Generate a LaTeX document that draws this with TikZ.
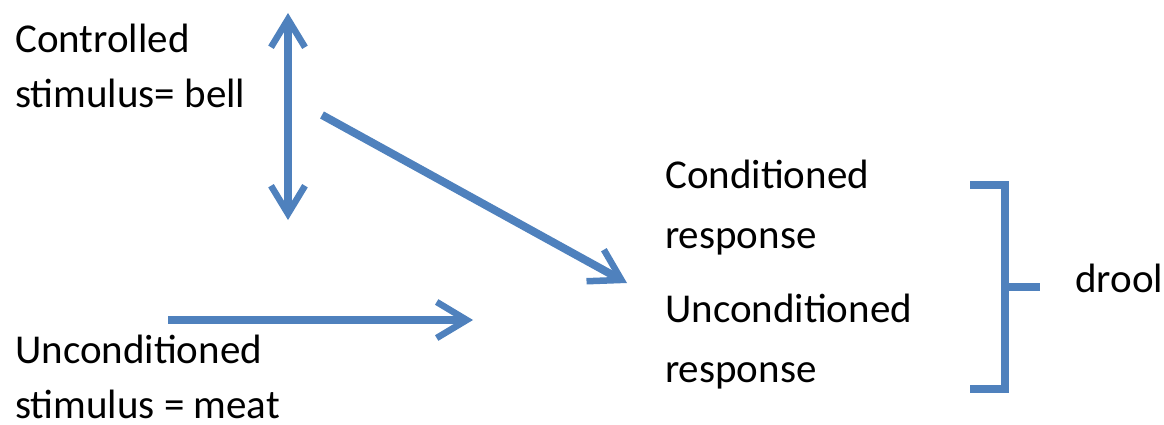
\documentclass[tikz,border=0pt]{standalone}
\usepackage{fontspec}
\setmainfont{Carlito}
\usetikzlibrary{arrows.meta}
\definecolor{arrowblue}{RGB}{79,129,189}
\tikzset{
  lbl/.style={inner sep=0pt, anchor=base west, align=left, font=\fontsize{41}{55}\selectfont},
  rlbl/.style={inner sep=0pt, anchor=base west, align=left, font=\fontsize{41}{59.5}\selectfont},
  conn/.style={draw=arrowblue, line width=8pt, -{Straight Barb[length=30pt,width=36pt,line width=6.5pt]}},
  dconn/.style={draw=arrowblue, line width=8pt, {Straight Barb[length=28pt,width=34pt,line width=6.5pt]}-{Straight Barb[length=28pt,width=34pt,line width=6.5pt]}},
  bracket/.style={draw=arrowblue, line width=7.5pt}
}
\begin{document}
\begin{tikzpicture}[x=1pt,y=-1pt]
\useasboundingbox (0,0) rectangle (1164,425);
\node[lbl] (cs) at (15,108) {Controlled\\stimulus= bell};
\node[lbl] (us) at (15,418) {Unconditioned\\stimulus = meat};
\node[rlbl] (cr) at (665,248) {Conditioned\\response};
\node[rlbl] (ur) at (665,382) {Unconditioned\\response};
\node[lbl] (drool) at (1075,292) {drool};
% arrow ends
\coordinate (vt) at (288,13);
\coordinate (vb) at (288,220);
\coordinate (ds) at (322,115);
\coordinate (de) at (627,283);
\coordinate (hs) at (168,320);
\coordinate (he) at (473,320);
\draw[dconn] (vb) -- (vt);
\draw[conn] (ds) -- (de);
\draw[conn] (hs) -- (he);
% bracket
\coordinate (bt) at (970,185);
\coordinate (bb) at (970,389);
\coordinate (bm) at (1040,287);
\draw[bracket] (bt) -- (1005,185) -- (1005,389) -- (bb);
\draw[bracket] (1005,287) -- (bm);
\end{tikzpicture}
\end{document}
